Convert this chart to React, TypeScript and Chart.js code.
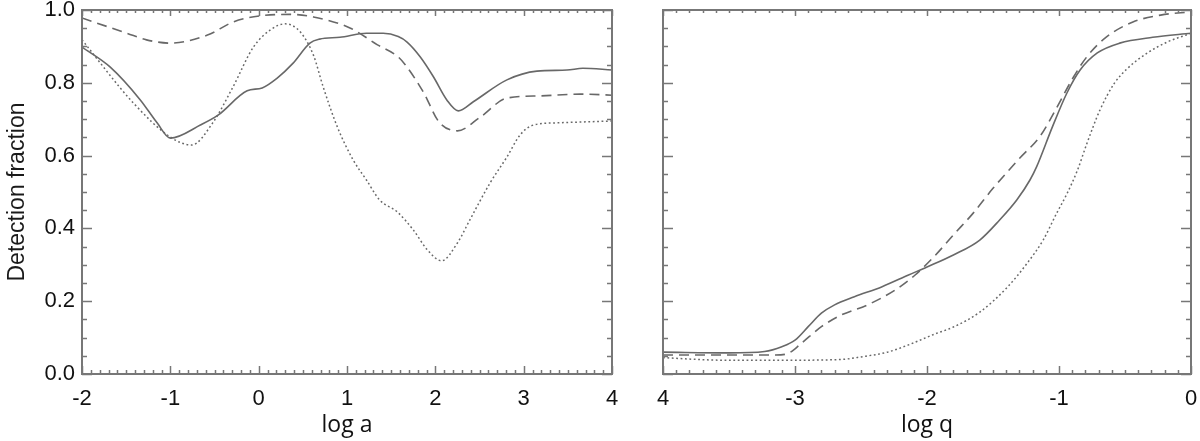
import React, { useEffect, useRef } from 'react';
import { Chart, registerables } from 'chart.js';
Chart.register(...registerables);

// ---- Left panel (log a) ----
const aSolidX = [-2, -1.68, -1.34, -1.15, -1.0, -0.66, -0.46, -0.13, 0.04, 0.21, 0.39, 0.58, 0.69, 0.92, 1.22, 1.41, 1.58, 1.68, 1.83, 1.98, 2.13, 2.26, 2.43, 2.81, 3.15, 3.49, 3.67, 4.0];
const aSolidY = [0.898, 0.843, 0.753, 0.69, 0.648, 0.684, 0.711, 0.778, 0.786, 0.813, 0.854, 0.909, 0.92, 0.925, 0.936, 0.936, 0.927, 0.912, 0.871, 0.816, 0.753, 0.723, 0.748, 0.808, 0.832, 0.835, 0.84, 0.835];

const aDashX = [-2, -1.49, -1.27, -1.0, -0.58, -0.28, 0.02, 0.35, 0.62, 1.04, 1.34, 1.58, 1.68, 1.87, 2.04, 2.25, 2.51, 2.81, 3.18, 3.64, 4.0];
const aDashY = [0.978, 0.936, 0.918, 0.909, 0.931, 0.968, 0.984, 0.988, 0.981, 0.95, 0.905, 0.871, 0.843, 0.772, 0.693, 0.668, 0.706, 0.758, 0.764, 0.769, 0.766];

const aDotX = [-2, -1.42, -1.0, -0.76, -0.52, -0.29, -0.06, 0.13, 0.3, 0.47, 0.62, 0.73, 0.89, 1.07, 1.22, 1.37, 1.57, 1.75, 1.91, 2.07, 2.25, 2.39, 2.62, 2.81, 2.96, 3.11, 3.38, 4.0];
const aDotY = [0.918, 0.745, 0.651, 0.629, 0.69, 0.789, 0.898, 0.945, 0.962, 0.94, 0.876, 0.789, 0.679, 0.588, 0.533, 0.478, 0.445, 0.396, 0.341, 0.311, 0.36, 0.423, 0.525, 0.596, 0.657, 0.684, 0.69, 0.695];

// ---- Right panel (log q) ----
const qSolidX = [-4, -3.5, -3.23, -3.1, -3.0, -2.9, -2.8, -2.7, -2.55, -2.34, -2.14, -2.0, -1.8, -1.6, -1.45, -1.32, -1.22, -1.17, -1.05, -0.94, -0.84, -0.71, -0.54, -0.29, 0];
const qSolidY = [0.06, 0.058, 0.062, 0.075, 0.093, 0.13, 0.167, 0.19, 0.212, 0.24, 0.272, 0.294, 0.327, 0.368, 0.423, 0.478, 0.533, 0.569, 0.679, 0.772, 0.835, 0.882, 0.909, 0.925, 0.936];

const qDashX = [-4, -3.15, -3.05, -2.95, -2.8, -2.65, -2.45, -2.24, -2.09, -1.94, -1.8, -1.65, -1.5, -1.3, -1.14, -1.02, -0.89, -0.79, -0.64, -0.44, -0.23, 0];
const qDashY = [0.052, 0.052, 0.057, 0.085, 0.13, 0.162, 0.19, 0.231, 0.272, 0.325, 0.382, 0.442, 0.51, 0.592, 0.655, 0.73, 0.816, 0.871, 0.926, 0.967, 0.986, 0.995];

const qDotX = [-4, -3.55, -3.0, -2.65, -2.5, -2.3, -2.14, -1.94, -1.8, -1.6, -1.39, -1.24, -1.12, -1.02, -0.94, -0.86, -0.79, -0.69, -0.58, -0.48, -0.33, -0.18, 0];
const qDotY = [0.045, 0.038, 0.038, 0.04, 0.047, 0.06, 0.08, 0.11, 0.129, 0.17, 0.239, 0.305, 0.368, 0.44, 0.495, 0.56, 0.632, 0.725, 0.799, 0.84, 0.882, 0.912, 0.936];

// ---- Tick labels ----
const yTickLabels = ['0.0', '0.2', '0.4', '0.6', '0.8', '1.0'];
const aTickLabels = ['-2', '-1', '0', '1', '2', '3', '4'];
const qTickLabels = ['4', '-3', '-2', '-1', '0'];
const yTitle = 'Detection fraction';
const aTitle = 'log a';
const qTitle = 'log q';

const LINE = '#686868';
const AXIS = '#777777';
const TICKFONT = { family: '"Liberation Sans", Arial, sans-serif', size: 22 };
const TITLEFONT = { family: '"Open Sans", "Noto Sans", sans-serif', size: 23 };

const zip = (xs: number[], ys: number[]) => xs.map((x, i) => ({ x, y: ys[i] }));

const frameTicks = {
  id: 'frameTicks',
  afterDraw(chart: any) {
    const { ctx, chartArea: a, scales } = chart;
    const xs = scales.x;
    const ys = scales.y;
    ctx.save();
    ctx.strokeStyle = AXIS;
    ctx.lineWidth = 1.5;
    const seg = (x1: number, y1: number, x2: number, y2: number) => {
      ctx.beginPath();
      ctx.moveTo(x1, y1);
      ctx.lineTo(x2, y2);
      ctx.stroke();
    };
    const nx = Math.round((xs.max - xs.min) * 10);
    for (let i = 0; i <= nx; i++) {
      const v = xs.min + i / 10;
      const px = Math.round(xs.getPixelForValue(v)) + 0.5;
      const major = i % 10 === 0;
      seg(px, a.bottom, px, a.bottom - (major ? 8 : 4));
      seg(px, a.top, px, a.top + (major ? 6 : 3));
    }
    for (let i = 0; i <= 20; i++) {
      const v = i * 0.05;
      const py = Math.round(ys.getPixelForValue(v)) + 0.5;
      const major = i % 4 === 0;
      const len = major ? 10 : 5;
      seg(a.left, py, a.left + len, py);
      seg(a.right, py, a.right - len, py);
    }
    ctx.lineWidth = 2;
    ctx.strokeRect(a.left, a.top, a.right - a.left, a.bottom - a.top);
    ctx.restore();
  },
};

function makeDatasets(sx: number[], sy: number[], dx: number[], dy: number[], tx: number[], ty: number[]) {
  const base = {
    borderColor: LINE,
    borderWidth: 1.6,
    pointRadius: 0,
    fill: false,
    cubicInterpolationMode: 'monotone' as const,
  };
  return [
    { ...base, label: 'solid', data: zip(sx, sy) },
    { ...base, label: 'dashed', data: zip(dx, dy), borderDash: [10, 6] },
    { ...base, label: 'dotted', data: zip(tx, ty), borderDash: [1.8, 2.6], borderWidth: 1.5 },
  ];
}

function Panel(props: {
  width: number;
  left: number;
  padRight: number;
  yWidth: number;
  showY: boolean;
  xmin: number;
  xmax: number;
  xLabels: string[];
  xTitle: string;
  datasets: any[];
}) {
  const ref = useRef<HTMLCanvasElement>(null);
  useEffect(() => {
    if (!ref.current) return;
    const p = props;
    const chart = new Chart(ref.current, {
      type: 'line',
      data: { datasets: p.datasets },
      plugins: [frameTicks],
      options: {
        responsive: false,
        animation: false,
        layout: { padding: { top: 10, right: p.padRight, bottom: 0, left: 0 } },
        plugins: { legend: { display: false }, tooltip: { enabled: false } },
        scales: {
          x: {
            type: 'linear',
            min: p.xmin,
            max: p.xmax,
            grid: { display: false, drawTicks: false },
            border: { display: false },
            ticks: {
              stepSize: 1,
              padding: 12,
              maxRotation: 0,
              color: '#111',
              font: TICKFONT,
              callback: (v: any) => p.xLabels[Math.round(Number(v) - p.xmin)] ?? '',
            },
            title: {
              display: true,
              text: p.xTitle,
              color: '#111',
              font: TITLEFONT,
              padding: { top: 0, bottom: 2 },
            },
            afterFit: (s: any) => {
              s.height = 67;
              s.paddingLeft = 0;
              s.paddingRight = 0;
            },
          },
          y: {
            type: 'linear',
            min: 0,
            max: 1,
            grid: { display: false, drawTicks: false },
            border: { display: false },
            ticks: {
              display: p.showY,
              stepSize: 0.2,
              padding: 7,
              color: '#111',
              font: TICKFONT,
              callback: (v: any) => yTickLabels[Math.round(Number(v) * 5)] ?? '',
            },
            title: {
              display: p.showY,
              text: yTitle,
              color: '#1a1a1a',
              font: { family: '"Liberation Sans", Arial, sans-serif', size: 23 },
              padding: { top: 4, bottom: 0 },
            },
            afterFit: (s: any) => {
              s.width = p.yWidth;
              s.paddingTop = 0;
              s.paddingBottom = 0;
            },
          },
        },
      } as any,
    });
    return () => chart.destroy();
  }, []);
  return (
    <canvas
      ref={ref}
      width={props.width}
      height={441}
      style={{ position: 'absolute', left: props.left, top: 0, width: props.width, height: 441 }}
    />
  );
}

export default function App() {
  return (
    <div style={{ position: 'absolute', left: 0, top: 0, width: 1200, height: 441, background: '#fff', overflow: 'hidden' }}>
      <Panel
        width={640}
        left={0}
        padRight={28}
        yWidth={82}
        showY={true}
        xmin={-2}
        xmax={4}
        xLabels={aTickLabels}
        xTitle={aTitle}
        datasets={makeDatasets(aSolidX, aSolidY, aDashX, aDashY, aDotX, aDotY)}
      />
      <Panel
        width={560}
        left={640}
        padRight={9}
        yWidth={23}
        showY={false}
        xmin={-4}
        xmax={0}
        xLabels={qTickLabels}
        xTitle={qTitle}
        datasets={makeDatasets(qSolidX, qSolidY, qDashX, qDashY, qDotX, qDotY)}
      />
    </div>
  );
}
